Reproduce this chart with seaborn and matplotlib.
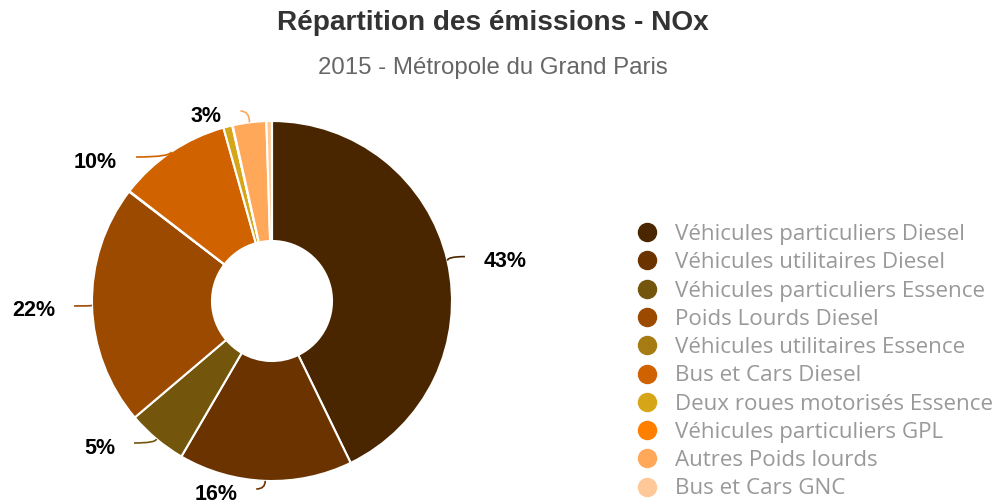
import numpy as np
import matplotlib
matplotlib.use("Agg")
import matplotlib.pyplot as plt
from matplotlib.path import Path
from matplotlib.patches import PathPatch
from matplotlib.lines import Line2D
import seaborn as sns

# ---- data ----
categories = [
    "Véhicules particuliers Diesel",
    "Véhicules utilitaires Diesel",
    "Véhicules particuliers Essence",
    "Poids Lourds Diesel",
    "Véhicules utilitaires Essence",
    "Bus et Cars Diesel",
    "Deux roues motorisés Essence",
    "Véhicules particuliers GPL",
    "Autres Poids lourds",
    "Bus et Cars GNC",
]
values = [42.8, 15.6, 5.4, 21.6, 0.05, 10.2, 0.8, 0.05, 3.0, 0.5]
colors = ["#4A2600", "#6B3300", "#73560C", "#9C4A00", "#A67C12",
          "#D06200", "#D6A618", "#FF7F00", "#FFA85A", "#FFC898"]
title = "Répartition des émissions - NOx"
subtitle = "2015 - Métropole du Grand Paris"
label_threshold = 3.0

sns.set_theme(style="white")
plt.rcParams["font.family"] = ["Liberation Sans", "DejaVu Sans"]

W, H = 1001, 504
fig = plt.figure(figsize=(W / 100, H / 100), dpi=100)

# pie axes: centre (272, 301) px, radius 180 px -> 1 data unit
cx, cy, R = 272, 301, 180
half = 270
ax = fig.add_axes([(cx - half) / W, (H - cy - half) / H, 2 * half / W, 2 * half / H])

wedges, _ = ax.pie(values, colors=colors, startangle=90, counterclock=False,
                   radius=1.0,
                   wedgeprops=dict(width=1 - 60 / 180, edgecolor="white", linewidth=1.5))
ax.set_xlim(-half / R, half / R)
ax.set_ylim(-half / R, half / R)
ax.set_aspect("equal")
ax.axis("off")
for w in wedges:
    w.set_clip_on(False)

# ---- data labels (Highcharts-like placement) ----
px = 1.0 / R
r_lab = 1.1
y_top = (cy - 111) * px
y_bot = (cy - 489) * px
gap_y = 46 * px

total = sum(values)
labels = []
cum = 0.0
for v, c in zip(values, colors):
    mid = (cum + v / 2) / total * 2 * np.pi
    cum += v
    pct = v / total * 100
    if pct < label_threshold - 0.5:
        continue
    sx, sy = np.sin(mid), np.cos(mid)
    labels.append(dict(pct=pct, c=c, ex=sx, ey=sy,
                       side=1 if sx >= 0 else -1, y=r_lab * sy))

for side in (1, -1):
    grp = sorted([l for l in labels if l["side"] == side], key=lambda l: -l["y"])
    prev = None
    for l in grp:
        l["y"] = min(l["y"], y_top)
        if prev is not None:
            l["y"] = min(l["y"], prev["y"] - gap_y)
        prev = l
    nxt = None
    for l in reversed(grp):
        l["y"] = max(l["y"], y_bot)
        if nxt is not None:
            l["y"] = max(l["y"], nxt["y"] + gap_y)
        nxt = l

for l in labels:
    side, yc = l["side"], l["y"]
    t = abs(yc) / r_lab
    if t < 0.93:
        xc = side * np.sqrt(r_lab ** 2 - yc ** 2)
    else:
        xc = l["ex"] + side * 0.05
    E = (l["ex"], l["ey"])
    L = (xc, yc)
    ctrl = (E[0], L[1])
    path = Path([L, ctrl, E], [Path.MOVETO, Path.CURVE3, Path.CURVE3])
    ax.add_patch(PathPatch(path, facecolor="none", edgecolor=l["c"], lw=1.2,
                           clip_on=False))
    ax.text(xc + side * 0.105, yc - 5 * px, f"{l['pct']:.0f}%",
            ha="left" if side > 0 else "right", va="center",
            fontsize=15.5, fontweight="bold", color="black", clip_on=False)

fig.text(0.492, 1 - 23 / H, title, ha="center", va="center",
         fontsize=20.2, fontweight="bold", color="#333333")
fig.text(0.492, 1 - 68 / H, subtitle, ha="center", va="center",
         fontsize=17.3, color="#666666")

handles = [Line2D([0], [0], marker="o", linestyle="none", markersize=13,
                  markerfacecolor=c, markeredgecolor=c) for c in colors]
leg = fig.legend(handles, categories, loc="upper left",
                 bbox_to_anchor=(638 / W, 1 - 224 / H),
                 frameon=False, borderpad=0, borderaxespad=0,
                 handlelength=0.82, handletextpad=0.82, labelspacing=0.325,
                 prop={"family": ["Open Sans", "DejaVu Sans"], "size": 16.1})
for t in leg.get_texts():
    t.set_color("#999999")

fig.savefig("out.png", dpi=100)
